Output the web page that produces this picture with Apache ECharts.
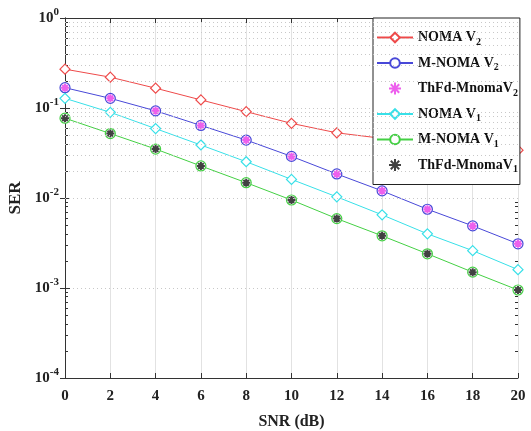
<!DOCTYPE html>
<html>
<head>
<meta charset="utf-8">
<script src="https://cdn.jsdelivr.net/npm/echarts@6/dist/echarts.min.js"></script>
<style>
  html, body { margin: 0; padding: 0; background: #fff; }
  #chart { width: 531px; height: 431px; }
</style>
</head>
<body>
<div id="chart"></div>
<script>
// SNR axis (dB)
const snr = [0, 2, 4, 6, 8, 10, 12, 14, 16, 18, 20]
// SER
const nomaV2 = [0.27, 0.22, 0.166, 0.123, 0.091, 0.0675, 0.053, 0.046, 0.042, 0.038, 0.034]
const mnomaV2 = [0.168, 0.128, 0.093, 0.064, 0.044, 0.029, 0.0185, 0.012, 0.0075, 0.0049, 0.0031]
const thfdV2 = [0.168, 0.128, 0.093, 0.064, 0.044, 0.029, 0.0185, 0.012, 0.0075, 0.0049, 0.0031]
const nomaV1 = [0.128, 0.0895, 0.059, 0.0388, 0.0253, 0.0161, 0.0103, 0.0065, 0.0040, 0.0026, 0.0016]
const mnomaV1 = [0.077, 0.052, 0.035, 0.0227, 0.0148, 0.0095, 0.0059, 0.0038, 0.0024, 0.0015, 0.00095]
const thfdV1 = [0.077, 0.052, 0.035, 0.0227, 0.0148, 0.0095, 0.0059, 0.0038, 0.0024, 0.0015, 0.00095]
// tick labels
const yTickExp = ['-4', '-3', '-2', '-1', '0']
const names = ['NOMA V_2', 'M-NOMA V_2', 'ThFd-MnomaV_2', 'NOMA V_1', 'M-NOMA V_1', 'ThFd-MnomaV_1']

const FONT = '"Liberation Serif", "DejaVu Serif", serif'
const star = 'path://M5,0L5,10M0,5L10,5M1.5,1.5L8.5,8.5M1.5,8.5L8.5,1.5'

// minor grid values (2..9 per decade)
const minorVals = []
for (let e = -4; e < 0; e++) {
  for (let m = 2; m <= 9; m++) minorVals.push(m * Math.pow(10, e))
}

const toPairs = arr => arr.map((v, i) => [snr[i], v])

function lineSeries(name, data, color, symbol) {
  return {
    name, type: 'line', data: toPairs(data),
    symbol, symbolSize: 10,
    lineStyle: { color, width: 1 },
    itemStyle: { color: '#fff', borderColor: color, borderWidth: 1.2 },
    z: 3
  }
}
function starSeries(name, data, color) {
  return {
    name, type: 'scatter', data: toPairs(data),
    symbol: star, symbolSize: 8,
    itemStyle: { color: 'none', borderColor: color, borderWidth: 2 },
    z: 4
  }
}

const chart = echarts.init(document.getElementById('chart'))

const series = [
  lineSeries(names[0], nomaV2, '#ee4a4a', 'diamond'),
  lineSeries(names[1], mnomaV2, '#4848d8', 'circle'),
  starSeries(names[2], thfdV2, '#e838e8'),
  lineSeries(names[3], nomaV1, '#38e0e8', 'diamond'),
  lineSeries(names[4], mnomaV1, '#44d044', 'circle'),
  starSeries(names[5], thfdV1, '#111')
]
series[0].markLine = {
  silent: true, symbol: 'none', label: { show: false }, animation: false,
  lineStyle: { color: '#c8c8c8', type: [1, 3], width: 1 },
  data: minorVals.map(v => ({ yAxis: v }))
}
series[0].z = 2

const tickStyle = { color: '#333' }
const minorAxis = pos => ({
  type: 'log', min: 1e-4, max: 1, logBase: 10, position: pos,
  axisLine: { show: false },
  axisTick: { show: true, inside: true, length: 3, lineStyle: tickStyle, customValues: minorVals },
  axisLabel: { show: false }, splitLine: { show: false }
})

chart.setOption({
  animation: false,
  grid: { left: 65, right: 13, top: 18, bottom: 53, show: false, outerBoundsMode: 'none' },
  legend: {
    data: names, orient: 'vertical', left: 373, top: 18,
    padding: [10, 2, 10, 3], itemGap: 6.5,
    itemWidth: 36, itemHeight: 12,
    backgroundColor: '#fff', borderColor: '#222', borderWidth: 1,
    formatter: n => {
      const p = n.split('_')
      return '{b|' + p[0] + '}{s|' + p[1] + '}'
    },
    textStyle: {
      rich: {
        b: { fontFamily: FONT, fontWeight: 'bold', fontSize: 14, color: '#111', lineHeight: 18 },
        s: { fontFamily: FONT, fontWeight: 'bold', fontSize: 10, color: '#111', padding: [9, 0, 0, 0], lineHeight: 18 }
      }
    }
  },
  xAxis: [{
    type: 'value', min: 0, max: 20, interval: 2,
    name: 'SNR (dB)', nameLocation: 'middle', nameGap: 36,
    nameTextStyle: { fontFamily: FONT, fontWeight: 'bold', fontSize: 16, color: '#222' },
    axisLine: { lineStyle: { color: '#333' } },
    axisTick: { inside: true, length: 5, lineStyle: tickStyle },
    axisLabel: { fontFamily: FONT, fontWeight: 'bold', fontSize: 15, color: '#222', margin: 11 },
    splitLine: { show: true, lineStyle: { color: '#e2e2e2', width: 1 } }
  }, {
    type: 'value', min: 0, max: 20, interval: 2, position: 'top',
    axisLine: { lineStyle: { color: '#333' } },
    axisTick: { inside: true, length: 5, lineStyle: tickStyle },
    axisLabel: { show: false }, splitLine: { show: false }
  }],
  yAxis: [{
    type: 'log', min: 1e-4, max: 1, logBase: 10,
    name: 'SER', nameLocation: 'middle', nameGap: 30,
    nameTextStyle: { fontFamily: FONT, fontWeight: 'bold', fontSize: 17, color: '#222' },
    axisLine: { show: true, lineStyle: { color: '#333' } },
    axisTick: { inside: true, length: 5, lineStyle: tickStyle },
    axisLabel: {
      margin: 6,
      formatter: (v, i) => '{b|10}{e|' + yTickExp[i] + '}',
      rich: {
        b: { fontFamily: FONT, fontWeight: 'bold', fontSize: 15, color: '#222' },
        e: { fontFamily: FONT, fontWeight: 'bold', fontSize: 11, color: '#222', padding: [0, 0, 11, 0] }
      }
    },
    splitLine: { show: true, lineStyle: { color: '#c8c8c8', type: [1, 3] } }
  }, {
    type: 'log', min: 1e-4, max: 1, logBase: 10, position: 'right',
    axisLine: { show: true, lineStyle: { color: '#333' } },
    axisTick: { inside: true, length: 5, lineStyle: tickStyle },
    axisLabel: { show: false }, splitLine: { show: false }
  }, minorAxis('left'), minorAxis('right')],
  series
})
</script>
</body>
</html>
